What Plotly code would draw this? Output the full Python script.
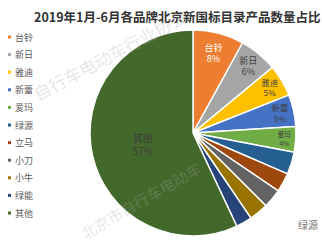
import plotly.graph_objects as go

labels = ["台铃", "新日", "雅迪", "新蕾", "爱玛", "绿源", "立马", "小刀", "小牛", "绿能", "其他"]
values = [8, 6, 5, 5, 4, 3.5, 3, 3, 3, 2.5, 57]
colors = ["#ED7D31", "#A5A5A5", "#FFC000", "#4472C4", "#70AD47", "#255E91",
          "#9E480E", "#636363", "#997300", "#264478", "#43682B"]
title = "2019年1月-6月各品牌北京新国标目录产品数量占比"
shown = {"台铃", "新日", "雅迪", "新蕾", "爱玛", "其他"}

W, H = 322, 250
texts = [f"{l}<br>{round(v)}%" if l in shown else "" for l, v in zip(labels, values)]
tcolors = ["white" if l == "台铃" else "#404040" for l in labels]
tsizes = [10 if l == "其他" else 9 for l in labels]

fig = go.Figure(go.Pie(
    labels=labels, values=values, sort=False, direction="clockwise", rotation=0,
    marker=dict(colors=colors, line=dict(color="white", width=1.5)),
    text=texts, textinfo="text", textposition="inside",
    insidetextorientation="horizontal",
    textfont=dict(size=tsizes, color=tcolors, family="Noto Sans CJK SC"),
    domain=dict(x=[90 / W, 296 / W], y=[1 - 236 / H, 1 - 30 / H]),
    showlegend=False, hoverinfo="label+percent",
))

annotations = [dict(text=f"<b>{title}</b>", x=32 / W, y=1 - 16 / H, xref="paper", yref="paper",
                    xanchor="left", yanchor="middle", showarrow=False,
                    font=dict(size=12.5, color="#333333", family="Noto Sans CJK SC"))]
shapes = []
y0, step = 37, 17.6
for i, (l, c) in enumerate(zip(labels, colors)):
    yy = y0 + i * step
    shapes.append(dict(type="rect", xref="paper", yref="paper",
                       x0=8 / W, x1=11 / W, y0=1 - (yy + 1.5) / H, y1=1 - (yy - 1.5) / H,
                       fillcolor=c, line=dict(width=0)))
    annotations.append(dict(text=l, x=13 / W, y=1 - yy / H, xref="paper", yref="paper",
                            xanchor="left", yanchor="middle", showarrow=False,
                            font=dict(size=9, color="#595959", family="Noto Sans CJK SC")))

wm = "rgba(170,170,170,0.3)"
annotations.append(dict(text="自行车电动车行业协会", x=110 / W, y=1 - 55 / H, xref="paper", yref="paper",
                        showarrow=False, textangle=-28, xanchor="center", yanchor="middle",
                        font=dict(size=17, color=wm, family="Noto Sans CJK SC")))
annotations.append(dict(text="北京市自行车电动车", x=140 / W, y=1 - 200 / H, xref="paper", yref="paper",
                        showarrow=False, textangle=-30, xanchor="center", yanchor="middle",
                        font=dict(size=15, color=wm, family="Noto Sans CJK SC")))
annotations.append(dict(text="绿源", x=296 / W, y=1 - 234 / H, xref="paper", yref="paper",
                        showarrow=False, xanchor="left",
                        font=dict(size=10, color="#777777", family="Noto Sans CJK SC")))

fig.update_layout(width=W, height=H, margin=dict(l=0, r=0, t=0, b=0),
                  paper_bgcolor="white", plot_bgcolor="white",
                  annotations=annotations, shapes=shapes)
fig.write_html("out.html")
